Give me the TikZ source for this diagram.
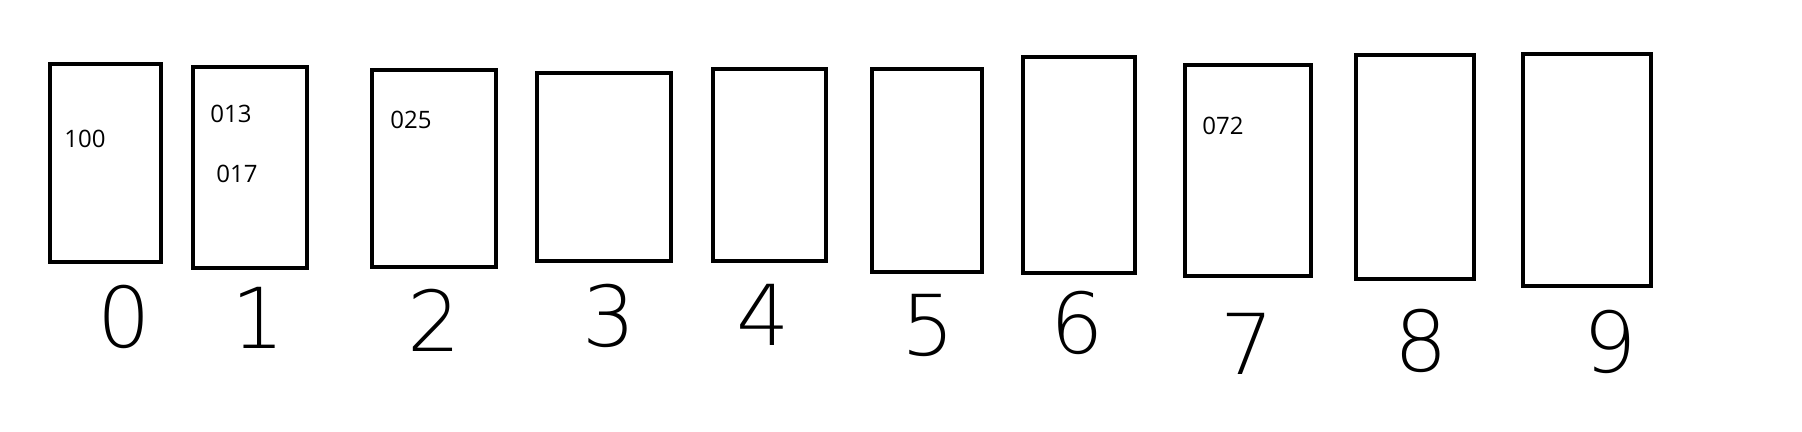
\documentclass[tikz,border=0pt]{standalone}
\usepackage{fontspec}
\setmainfont{Open Sans}
\newfontfamily\handfont{DejaVu Sans ExtraLight}
\usetikzlibrary{fit}
\tikzset{
  box/.style={draw=black, line width=2.1pt, inner sep=0pt, fill=none},
  val/.style={inner sep=0pt, font=\fontsize{12}{14}\selectfont},
  digit/.style={inner sep=0pt, font=\handfont\fontsize{42}{46}\selectfont}
}
\begin{document}
\begin{tikzpicture}[x=0.5pt,y=-0.5pt]
\fill[white] (0,0) rectangle (1802,432);
\useasboundingbox (0,0) rectangle (1802,432);
% boxes
\node[box, fit={(50.3,64.3) (160.7,262.3)}] (b0) {};
\node[box, fit={(193,67) (306.7,268.3)}] (b1) {};
\node[box, fit={(372,70.3) (496,266.7)}] (b2) {};
\node[box, fit={(537,73) (670.7,261.3)}] (b3) {};
\node[box, fit={(713,69) (826,261.3)}] (b4) {};
\node[box, fit={(872,69) (982,271.7)}] (b5) {};
\node[box, fit={(1023,57) (1135,272.7)}] (b6) {};
\node[box, fit={(1185,65.3) (1311,276)}] (b7) {};
\node[box, fit={(1356,55.3) (1474,278.7)}] (b8) {};
\node[box, fit={(1523,54.3) (1651,286)}] (b9) {};
% values
\node[val] (v100) at (85,139) {100};
\node[val] (v013) at (231,113.5) {013};
\node[val] (v017) at (237,173.7) {017};
\node[val] (v025) at (411,119.7) {025};
\node[val] (v072) at (1223,126) {072};
% index digits
\node[digit] (d0) at (124.3,317) {0};
\node[digit] (d1) at (258.3,318) {1};
\node[digit] (d2) at (434,320) {2};
\node[digit] (d3) at (609,316) {3};
\node[digit] (d4) at (763,315) {4};
\node[digit] (d5) at (928,325) {5};
\node[digit] (d6) at (1077,323) {6};
\node[digit] (d7) at (1247,344) {7};
\node[digit] (d8) at (1421,341) {8};
\node[digit] (d9) at (1610,342) {9};
\end{tikzpicture}
\end{document}
